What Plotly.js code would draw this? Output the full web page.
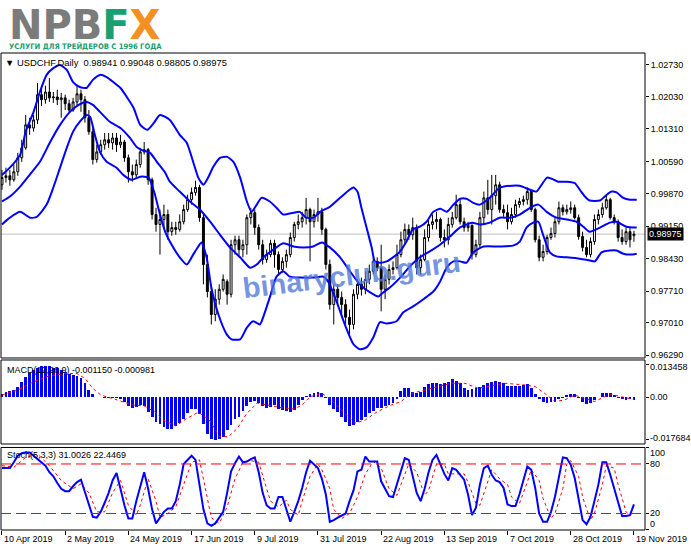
<!DOCTYPE html>
<html><head><meta charset="utf-8">
<script src="https://cdn.plot.ly/plotly-3.0.1.min.js"></script>
<style>html,body{margin:0;padding:0;background:#fff;overflow:hidden}#chart{width:691px;height:549px}</style>
</head><body><div id="chart"></div><script>
// ---- x-axis tick labels ----
const dateLabels = ["10 Apr 2019","2 May 2019","24 May 2019","17 Jun 2019","9 Jul 2019","31 Jul 2019","22 Aug 2019","13 Sep 2019","7 Oct 2019","28 Oct 2019","19 Nov 2019"];
const labelBars = [0,16,32,48,64,80,96,112,128,144,160];

// ---- axis ticks ----
const priceTicks = [1.0273,1.0203,1.0131,1.0059,0.9987,0.9915,0.9843,0.9771,0.9701,0.9629];
const priceTickText = ["1.02730","1.02030","1.01310","1.00590","0.99870","0.99150","0.98430","0.97710","0.97010","0.96290"];
const macdTicks = [0.013458,0,-0.017684];
const macdTickText = ["0.013458","0.00","-0.017684"];
const stochTicks = [100,80,20,0];
const stochTickText = ["100","80","20","0"];
const stochLevels = [80,20];

// ---- USDCHF daily OHLC ----
const openP = [1.0007,1.0023,1.0027,1.0018,1.0036,1.0067,1.0089,1.0140,1.0133,1.0151,
1.0207,1.0196,1.0213,1.0200,1.0202,1.0196,1.0200,1.0187,1.0173,1.0191,
1.0209,1.0196,1.0156,1.0125,1.0063,1.0080,1.0096,1.0107,1.0100,1.0111,
1.0096,1.0102,1.0067,1.0036,1.0029,1.0052,1.0080,1.0085,1.0018,0.9941,
0.9919,0.9930,0.9941,0.9903,0.9912,0.9908,0.9925,0.9952,0.9974,0.9990,
1.0001,0.9934,0.9830,0.9770,0.9719,0.9753,0.9775,0.9792,0.9764,0.9874,
0.9885,0.9863,0.9874,0.9934,0.9945,0.9912,0.9874,0.9841,0.9852,0.9877,
0.9852,0.9819,0.9837,0.9852,0.9890,0.9919,0.9925,0.9934,0.9952,0.9925,
0.9941,0.9947,0.9908,0.9830,0.9741,0.9775,0.9757,0.9741,0.9713,0.9697,
0.9764,0.9786,0.9775,0.9797,0.9815,0.9837,0.9823,0.9775,0.9797,0.9819,
0.9823,0.9852,0.9885,0.9908,0.9896,0.9912,0.9823,0.9841,0.9890,0.9919,
0.9925,0.9930,0.9890,0.9885,0.9919,0.9934,0.9963,0.9925,0.9912,0.9917,
0.9852,0.9874,0.9934,0.9978,0.9952,0.9983,1.0007,0.9952,0.9945,0.9925,
0.9941,0.9963,0.9970,0.9974,0.9992,0.9952,0.9885,0.9846,0.9859,0.9890,
0.9899,0.9925,0.9956,0.9947,0.9952,0.9956,0.9934,0.9892,0.9868,0.9852,
0.9881,0.9930,0.9941,0.9956,0.9974,0.9934,0.9925,0.9890,0.9881,0.9903,
0.98941];
const highP = [1.0040,1.0045,1.0040,1.0052,1.0078,1.0107,1.0162,1.0156,1.0162,1.0233,
1.0222,1.0227,1.0244,1.0213,1.0218,1.0211,1.0207,1.0196,1.0200,1.0229,
1.0218,1.0204,1.0173,1.0133,1.0096,1.0107,1.0122,1.0122,1.0122,1.0122,
1.0118,1.0107,1.0074,1.0052,1.0063,1.0089,1.0102,1.0089,1.0023,0.9956,
0.9952,0.9963,0.9952,0.9925,0.9925,0.9941,0.9963,0.9985,1.0001,1.0016,
1.0007,0.9941,0.9852,0.9786,0.9775,0.9786,0.9808,0.9797,0.9885,0.9894,
0.9894,0.9885,0.9941,0.9956,0.9952,0.9919,0.9885,0.9863,0.9885,0.9885,
0.9859,0.9846,0.9863,0.9901,0.9925,0.9941,0.9947,0.9978,0.9956,0.9952,
0.9978,0.9956,0.9912,0.9841,0.9786,0.9786,0.9770,0.9753,0.9730,0.9775,
0.9797,0.9801,0.9815,0.9830,0.9846,0.9846,0.9874,0.9808,0.9830,0.9837,
0.9874,0.9903,0.9921,0.9919,0.9934,0.9919,0.9852,0.9908,0.9930,0.9941,
0.9947,0.9934,0.9908,0.9934,0.9947,0.9985,0.9974,0.9934,0.9925,0.9919,
0.9885,0.9947,0.9992,1.0018,1.0029,1.0029,1.0014,0.9963,0.9963,0.9956,
0.9974,0.9978,0.9983,1.0001,0.9996,0.9956,0.9894,0.9874,0.9896,0.9912,
0.9934,0.9970,0.9963,0.9963,0.9970,0.9963,0.9941,0.9903,0.9885,0.9890,
0.9941,0.9952,0.9967,0.9985,0.9978,0.9941,0.9930,0.9908,0.9912,0.9912,
0.99048];
const lowP = [0.9996,1.0012,1.0005,1.0014,1.0027,1.0058,1.0085,1.0118,1.0125,1.0142,
1.0182,1.0187,1.0191,1.0189,1.0184,1.0156,1.0173,1.0167,1.0169,1.0184,
1.0169,1.0145,1.0118,1.0052,1.0056,1.0074,1.0085,1.0089,1.0085,1.0080,
1.0089,1.0058,1.0012,1.0014,1.0023,1.0045,1.0074,1.0007,0.9930,0.9903,
0.9852,0.9912,0.9885,0.9894,0.9896,0.9903,0.9919,0.9947,0.9963,0.9983,
0.9925,0.9786,0.9757,0.9697,0.9704,0.9741,0.9770,0.9741,0.9757,0.9852,
0.9846,0.9846,0.9852,0.9919,0.9896,0.9863,0.9830,0.9834,0.9846,0.9823,
0.9808,0.9812,0.9823,0.9846,0.9881,0.9908,0.9912,0.9919,0.9837,0.9912,
0.9925,0.9896,0.9819,0.9730,0.9697,0.9741,0.9713,0.9697,0.9668,0.9686,
0.9753,0.9761,0.9764,0.9786,0.9808,0.9815,0.9726,0.9753,0.9786,0.9808,
0.9819,0.9846,0.9874,0.9885,0.9885,0.9808,0.9808,0.9837,0.9881,0.9908,
0.9908,0.9881,0.9868,0.9874,0.9912,0.9930,0.9919,0.9903,0.9903,0.9841,
0.9846,0.9868,0.9919,0.9941,0.9919,0.9963,0.9945,0.9936,0.9908,0.9919,
0.9934,0.9956,0.9961,0.9963,0.9947,0.9879,0.9837,0.9837,0.9852,0.9885,
0.9890,0.9919,0.9939,0.9941,0.9943,0.9930,0.9885,0.9859,0.9846,0.9846,
0.9874,0.9919,0.9934,0.9952,0.9930,0.9919,0.9881,0.9874,0.9874,0.9868,
0.98805];
const closeP = [1.0023,1.0027,1.0018,1.0036,1.0067,1.0089,1.0140,1.0133,1.0151,1.0207,
1.0196,1.0213,1.0200,1.0202,1.0196,1.0200,1.0187,1.0173,1.0191,1.0209,
1.0196,1.0156,1.0125,1.0063,1.0080,1.0096,1.0107,1.0100,1.0111,1.0096,
1.0102,1.0067,1.0036,1.0029,1.0052,1.0080,1.0085,1.0018,0.9941,0.9919,
0.9930,0.9941,0.9903,0.9912,0.9908,0.9925,0.9952,0.9974,0.9990,1.0001,
0.9934,0.9830,0.9770,0.9719,0.9753,0.9775,0.9797,0.9764,0.9874,0.9885,
0.9863,0.9874,0.9934,0.9945,0.9912,0.9874,0.9841,0.9852,0.9877,0.9852,
0.9819,0.9837,0.9852,0.9890,0.9919,0.9925,0.9934,0.9952,0.9925,0.9941,
0.9947,0.9908,0.9830,0.9741,0.9775,0.9757,0.9741,0.9713,0.9697,0.9764,
0.9786,0.9775,0.9797,0.9815,0.9837,0.9823,0.9775,0.9797,0.9819,0.9823,
0.9852,0.9885,0.9908,0.9896,0.9912,0.9823,0.9841,0.9890,0.9919,0.9925,
0.9930,0.9890,0.9885,0.9919,0.9934,0.9963,0.9925,0.9912,0.9917,0.9852,
0.9874,0.9934,0.9978,0.9952,0.9983,1.0007,0.9952,0.9945,0.9925,0.9941,
0.9963,0.9970,0.9974,0.9992,0.9952,0.9885,0.9846,0.9859,0.9890,0.9899,
0.9925,0.9956,0.9947,0.9952,0.9956,0.9934,0.9892,0.9868,0.9852,0.9881,
0.9930,0.9941,0.9956,0.9974,0.9934,0.9925,0.9890,0.9881,0.9903,0.9885,
0.98975];
const lastPriceText = "0.98975";

// ---- Bollinger bands (read at sampled bars) ----
const upperBars = [0,2,4.6,6,8,9.6,11.3,13,14.7,16.4,18,19.7,21.4,23,24.8,26.5,28.2,30,31.6,33.3,35,36.8,38.5,40,42.5,45,46.8,48.4,49.7,51,52.2,53.5,55.2,57,58.6,60.3,62,63.2,64.5,65.7,67.8,69.5,71.2,73.8,75.4,77,79,80.5,83,85.6,88,89,90,91,92.3,93.6,94.4,95.7,97.4,99,100.8,102.4,104,105.8,107.5,109.2,111,112.6,114.3,116,117.6,119.3,121,123.5,126,127,131,133.7,135.3,136.6,138,139,140.8,143,145,146.3,147.6,148.8,151.4,152.6,154.3,155.6,157.3,159,160.7];
const upperVals = [1.0029,1.0045,1.0074,1.0125,1.0169,1.0213,1.0251,1.0266,1.0273,1.0262,1.0235,1.0224,1.0222,1.0240,1.0251,1.0246,1.0235,1.0222,1.0202,1.0178,1.0140,1.0129,1.0145,1.0162,1.0151,1.0118,1.0100,1.0058,1.0023,1.0007,1.0023,1.0047,1.0067,1.0069,1.0058,1.0023,0.9970,0.9947,0.9963,0.9978,0.9970,0.9956,0.9941,0.9945,0.9947,0.9934,0.9934,0.9947,0.9958,0.9978,0.9996,1.0001,0.9992,0.9956,0.9912,0.9868,0.9837,0.9834,0.9837,0.9846,0.9859,0.9881,0.9908,0.9914,0.9925,0.9947,0.9954,0.9947,0.9963,0.9976,0.9976,0.9967,0.9963,0.9978,1.0001,1.0003,1.0005,0.9996,0.9992,1.0007,1.0023,1.0021,1.0014,1.0014,1.0011,0.9996,0.9981,0.9972,0.9972,0.9981,0.9992,0.9990,0.9978,0.9974,0.9974];
const midBars = [0,2,4.6,7,9.6,12.2,14.7,17.2,19.3,21.4,23.1,24.8,27.3,30,32.4,34.1,35.8,37.5,39.2,41.3,42.5,45,47.6,50.1,52.7,55.2,57.7,60.3,62.8,64.5,66.2,68.7,71.2,73.8,76.3,78.8,81,83,85.6,88.1,90.6,93.2,95.3,96.5,98.2,100.8,103.3,105.8,108.3,110.9,113.4,115.9,119,121,123.5,126,128.6,131.1,133.7,135.8,137.9,140.4,143,145.5,147.2,148.8,151.4,153.9,155.6,158.1,160.7];
const midVals = [0.9970,0.9981,1.0003,1.0029,1.0058,1.0102,1.0140,1.0169,1.0184,1.0191,1.0184,1.0169,1.0147,1.0133,1.0111,1.0091,1.0083,1.0078,1.0058,1.0034,1.0014,0.9992,0.9970,0.9952,0.9925,0.9896,0.9868,0.9846,0.9823,0.9830,0.9846,0.9863,0.9877,0.9870,0.9868,0.9870,0.9879,0.9868,0.9846,0.9815,0.9786,0.9768,0.9759,0.9768,0.9779,0.9801,0.9826,0.9846,0.9859,0.9874,0.9892,0.9912,0.9923,0.9919,0.9923,0.9934,0.9934,0.9941,0.9956,0.9963,0.9947,0.9934,0.9930,0.9925,0.9914,0.9903,0.9912,0.9923,0.9925,0.9914,0.9912];
const lowBars = [0,2,4.6,7.1,8.8,11.3,13,14.7,16.4,18,19.7,21.4,22.3,23.5,24.8,26.5,29,30.7,32.8,35,37.1,38.5,40,41.3,42.5,45,46.8,48.4,49.7,50.5,51.8,53,54.8,56.9,58.1,60.3,62,63.6,65.3,66.2,67.8,69.5,71.2,72.9,75.4,78.8,81.4,82.6,84.7,86.8,89,90.6,92.3,94,95.7,97.4,99.9,101.6,104.1,106.7,109.2,110.9,112.6,114.3,116,117.6,119.3,121.9,126,129.4,131.1,132.8,134.5,135.8,137,138.7,140.4,143,146.3,148.8,150.1,151.8,153.9,155.6,157.3,159,160.7];
const lowVals = [0.9919,0.9934,0.9947,0.9934,0.9936,0.9963,1.0001,1.0045,1.0089,1.0125,1.0147,1.0162,1.0158,1.0118,1.0080,1.0058,1.0045,1.0029,1.0018,1.0025,1.0023,0.9992,0.9941,0.9903,0.9881,0.9846,0.9830,0.9852,0.9870,0.9879,0.9846,0.9779,0.9719,0.9675,0.9664,0.9664,0.9690,0.9704,0.9697,0.9715,0.9757,0.9803,0.9815,0.9803,0.9801,0.9801,0.9803,0.9792,0.9748,0.9697,0.9653,0.9642,0.9646,0.9668,0.9702,0.9699,0.9704,0.9724,0.9737,0.9753,0.9770,0.9792,0.9823,0.9837,0.9837,0.9834,0.9857,0.9870,0.9870,0.9872,0.9881,0.9912,0.9923,0.9925,0.9896,0.9857,0.9848,0.9846,0.9843,0.9839,0.9837,0.9857,0.9861,0.9861,0.9854,0.9852,0.9854];

// ---- MACD(12,26,9) ----
const macdHist = [0.0011,0.0019,0.0025,0.0030,0.0043,0.0063,0.0084,0.0098,0.0112,0.0121,
0.0128,0.0130,0.0127,0.0121,0.0119,0.0112,0.0102,0.0094,0.0091,0.0088,
0.0077,0.0057,0.0029,0.0011,0.0001,0.0000,-0.0003,-0.0004,-0.0006,-0.0004,
-0.0008,-0.0019,-0.0036,-0.0047,-0.0043,-0.0032,-0.0037,-0.0062,-0.0083,-0.0104,
-0.0113,-0.0124,-0.0134,-0.0134,-0.0120,-0.0108,-0.0090,-0.0065,-0.0051,-0.0048,
-0.0069,-0.0110,-0.0152,-0.0175,-0.0177,-0.0175,-0.0166,-0.0138,-0.0117,-0.0092,
-0.0083,-0.0059,-0.0037,-0.0021,-0.0018,-0.0025,-0.0037,-0.0044,-0.0043,-0.0035,
-0.0050,-0.0054,-0.0058,-0.0061,-0.0054,-0.0033,-0.0012,0.0006,0.0011,0.0015,
0.0022,0.0015,-0.0006,-0.0033,-0.0050,-0.0063,-0.0081,-0.0102,-0.0119,-0.0116,
-0.0105,-0.0095,-0.0081,-0.0068,-0.0058,-0.0047,-0.0044,-0.0036,-0.0033,-0.0026,
-0.0008,0.0025,0.0039,0.0036,0.0022,0.0015,0.0019,0.0043,0.0052,0.0057,
0.0057,0.0052,0.0057,0.0063,0.0075,0.0066,0.0057,0.0036,0.0029,0.0033,
0.0036,0.0043,0.0050,0.0057,0.0063,0.0066,0.0063,0.0057,0.0047,0.0047,
0.0047,0.0047,0.0050,0.0052,0.0036,0.0011,-0.0008,-0.0022,-0.0026,-0.0022,
-0.0019,-0.0008,-0.0003,0.0008,0.0014,0.0011,-0.0003,-0.0019,-0.0028,-0.0026,
-0.0012,0.0000,0.0015,0.0018,0.0015,0.0008,-0.0003,-0.0008,-0.0011,-0.0008,
-0.001150];
const sigBars = [0,4,8,12,16,19,21,23,25,28,33,36,38.7,40.8,44,46.7,49.7,52.5,55,57.3,59.6,61.9,64.6,68,71,74,76,78,81,83,86,89.3,92,95,98.6,101,103.7,107,110.4,113.8,117.2,120.6,124,127.3,132.4,135,137.4,140,142.5,145,147.6,150,152.6,154.3,156.8,160];
const sigVals = [0.0008,0.0029,0.0063,0.0088,0.0098,0.0097,0.0077,0.0036,0.0008,-0.0006,-0.0033,-0.0037,-0.0062,-0.0095,-0.0120,-0.0090,-0.0063,-0.0095,-0.0163,-0.0165,-0.0130,-0.0070,-0.0025,-0.0035,-0.0045,-0.0050,-0.0033,0.0001,0.0015,-0.0006,-0.0054,-0.0109,-0.0095,-0.0061,-0.0033,-0.0019,0.0015,0.0029,0.0043,0.0057,0.0057,0.0036,0.0047,0.0057,0.0050,0.0043,0.0015,-0.0019,-0.0012,0.0008,-0.0006,-0.0019,0.0001,0.0011,0.0001,-0.000981];

// ---- Stochastic(5,3,3) ----
const stochK = [75,75,75,82,90,93,94,94,90,87,
83,78,70,65,57,50,47,47,53,58,
61,45,30,16,15,22,33,45,60,69,
50,30,14,14,35,52,70,50,25,8,
15,22,26,26,35,55,80,85,90,85,
55,25,8,5,8,15,22,45,71,81,
89,82,83,86,88,70,45,30,26,26,
40,40,25,10,22,35,51,70,84,80,
75,62,43,10,12,15,18,20,35,48,
71,73,89,83,83,83,59,50,41,40,
55,70,87,85,65,45,35,50,70,85,
91,80,68,60,75,73,67,61,43,18,
27,55,75,78,67,60,58,51,31,29,
29,43,60,77,73,51,20,10,10,22,
40,65,88,87,79,63,39,12,7,16,
35,55,82,82,67,51,35,17,17,18,
31.0026];
const dBars = [0,3,6,9,12,15,18,20,22,24,26,28,30,32,34,35,37,39,40,42,44,46,48,50,52,53,55,57,59,61,63,65,67,68,70,72,73,75,76,78,80,81,83,84,86,88,90,92,94,96,98,100,101,103,105,107,108,110,112,113,115,117,118,120,121,123,124,126,128,129,131,133,134,136,137,139,140,142,143,144,146,147,149,150,152,153,155,156,158,159,160];
const dVals = [78,76,88,92,78,60,50,56,45,22,22,45,60,30,18,30,62,35,15,20,28,55,82,85,40,15,8,28,62,82,84,82,50,35,28,36,25,18,35,65,80,73,50,25,14,20,40,68,83,75,50,42,55,80,70,42,48,80,80,68,68,68,58,32,30,60,73,62,55,40,32,58,73,60,38,14,20,50,80,84,65,40,12,20,55,78,75,55,22,18,22.4469];

const barIndex = closeP.map((_, i) => i);
const FONT = "Liberation Sans, Arial, sans-serif";
const lastClose = closeP[closeP.length - 1];

const traces = [
  {type:'candlestick', x:barIndex, open:openP, high:highP, low:lowP, close:closeP,
   increasing:{line:{color:'#000', width:1}, fillcolor:'#fff'},
   decreasing:{line:{color:'#000', width:1}, fillcolor:'#000'},
   whiskerwidth:0, xaxis:'x', yaxis:'y', hoverinfo:'skip'},
  {type:'scatter', mode:'lines', x:upperBars, y:upperVals, line:{color:'#0000ff', width:2, shape:'spline', smoothing:0.6}, xaxis:'x', yaxis:'y', hoverinfo:'skip'},
  {type:'scatter', mode:'lines', x:midBars, y:midVals, line:{color:'#0000ff', width:2, shape:'spline', smoothing:0.6}, xaxis:'x', yaxis:'y', hoverinfo:'skip'},
  {type:'scatter', mode:'lines', x:lowBars, y:lowVals, line:{color:'#0000ff', width:2, shape:'spline', smoothing:0.6}, xaxis:'x', yaxis:'y', hoverinfo:'skip'},
  {type:'bar', x:barIndex, y:macdHist, width:0.72, marker:{color:'#0000ff', line:{width:0}}, xaxis:'x', yaxis:'y2', hoverinfo:'skip'},
  {type:'scatter', mode:'lines', x:sigBars, y:sigVals, line:{color:'#ff0000', width:1, dash:'dot'}, xaxis:'x', yaxis:'y2', hoverinfo:'skip'},
  {type:'scatter', mode:'lines', x:dBars, y:dVals, line:{color:'#ff0000', width:1, dash:'dot'}, xaxis:'x', yaxis:'y3', hoverinfo:'skip'},
  {type:'scatter', mode:'lines', x:barIndex, y:stochK, line:{color:'#0000ff', width:2}, xaxis:'x', yaxis:'y3', hoverinfo:'skip'}
];

const axisFont = {family:FONT, size:9, color:'#000'};
const shapes = [
  {type:'rect', xref:'paper', yref:'paper', x0:0, x1:1, y0:0.3606, y1:1, line:{color:'#000', width:1}},
  {type:'rect', xref:'paper', yref:'paper', x0:0, x1:1, y0:0.1803, y1:0.3564, line:{color:'#000', width:1}},
  {type:'rect', xref:'paper', yref:'paper', x0:0, x1:1, y0:0, y1:0.173, line:{color:'#000', width:1}},
  {type:'line', xref:'paper', yref:'y', x0:0, x1:1, y0:lastClose, y1:lastClose, line:{color:'#c0c0c0', width:1}, layer:'below'}
];
stochLevels.forEach(v => shapes.push({type:'line', xref:'paper', yref:'y3', x0:0, x1:1, y0:v, y1:v, line:{color:'#ff0000', width:1, dash:'10px,5px'}}));

const logoText = '<span style="font-size:40px;font-family:DejaVu Sans,sans-serif"><b>' +
  '<span style="color:#7b7b7b">NPB</span><span style="color:#17a071">F</span><span style="color:#f39021">X</span></b></span>' +
  '<br><b>УСЛУГИ ДЛЯ ТРЕЙДЕРОВ С 1996 ГОДА</b>';

const annotations = [
  {xref:'paper', yref:'paper', x:0.0095, y:1.111, xanchor:'left', yanchor:'top', align:'left', showarrow:false,
   text:logoText, font:{family:'Liberation Sans Narrow, DejaVu Sans Condensed, Liberation Sans, sans-serif', size:7.6, color:'#17a071'}},
  {xref:'paper', yref:'paper', x:0.003, y:0.981, xanchor:'left', yanchor:'middle', showarrow:false,
   text:'▼ USDCHF,Daily  0.98941 0.99048 0.98805 0.98975', font:{family:FONT, size:9.4, color:'#000'}},
  {xref:'paper', yref:'paper', x:0.006, y:0.335, xanchor:'left', yanchor:'middle', showarrow:false,
   text:'MACD(12,26,9) -0.001150 -0.000981', font:{family:FONT, size:9, color:'#000'}},
  {xref:'paper', yref:'paper', x:0.006, y:0.157, xanchor:'left', yanchor:'middle', showarrow:false,
   text:'Stoch(5,3,3) 31.0026 22.4469', font:{family:FONT, size:9, color:'#000'}},
  {xref:'paper', yref:'paper', x:0.545, y:0.535, xanchor:'center', yanchor:'middle', showarrow:false, textangle:-7,
   text:'<b>binaryclub.guru</b>', font:{family:FONT, size:29, color:'rgba(80,120,215,0.78)'}},
  {xref:'paper', yref:'y', x:1.003, y:lastClose, xanchor:'left', yanchor:'middle', showarrow:false,
   text:lastPriceText, bgcolor:'#000', borderpad:1, font:{family:FONT, size:9, color:'#fff'}}
];
// right-axis labels; MT4 nudges the window's extreme labels inward
const sideLabel = (yref, v, txt, shift) => ({xref:'paper', yref:yref, x:1, y:v, xanchor:'left', yanchor:'middle', xshift:3, yshift:shift,
  showarrow:false, text:txt, font:axisFont});
annotations.push(sideLabel('y2', macdTicks[0], macdTickText[0], -2));
annotations.push(sideLabel('y2', macdTicks[1], macdTickText[1], 0));
annotations.push(sideLabel('y2', macdTicks[2], macdTickText[2], 2));
annotations.push(sideLabel('y3', stochTicks[0], stochTickText[0], -6));
annotations.push(sideLabel('y3', stochTicks[1], stochTickText[1], 0));
annotations.push(sideLabel('y3', stochTicks[2], stochTickText[2], 0));
annotations.push(sideLabel('y3', stochTicks[3], stochTickText[3], 6));
dateLabels.forEach((t, i) => annotations.push({xref:'x', yref:'paper', x:labelBars[i], y:-0.019, xanchor:'left', yanchor:'middle', showarrow:false, text:t, font:{family:FONT, size:9, color:'#000'}}));

const rightAxis = (extra) => Object.assign({side:'right', anchor:'x', ticks:'outside', ticklen:3, tickcolor:'#000',
  showgrid:false, zeroline:false, tickfont:axisFont, fixedrange:true}, extra);

const layout = {
  width:691, height:549,
  margin:{l:1, r:46, t:53, b:19, pad:0},
  paper_bgcolor:'#fff', plot_bgcolor:'#fff',
  showlegend:false, hovermode:false, bargap:0,
  xaxis:{range:[-0.25,162.8], anchor:'y3', showgrid:false, zeroline:false, tickvals:labelBars, showticklabels:false,
         ticks:'outside', ticklen:4, tickcolor:'#000', rangeslider:{visible:false}, fixedrange:true},
  yaxis: rightAxis({domain:[0.3606,1], range:[0.96225,1.02996], tickvals:priceTicks, ticktext:priceTickText}),
  yaxis2: rightAxis({domain:[0.1803,0.3564], range:[-0.0195,0.01536], tickvals:macdTicks, showticklabels:false}),
  yaxis3: rightAxis({domain:[0,0.173], range:[0,100], tickvals:stochTicks, showticklabels:false}),
  shapes:shapes,
  annotations:annotations
};

Plotly.newPlot('chart', traces, layout, {staticPlot:true, displayModeBar:false});
</script></body></html>
